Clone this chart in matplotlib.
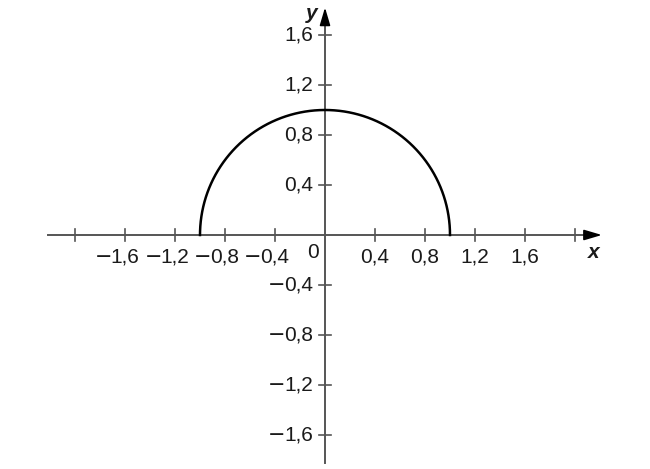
import numpy as np
import matplotlib
matplotlib.use("Agg")
import matplotlib.pyplot as plt

plt.rcParams["font.family"] = ["Liberation Sans", "DejaVu Sans"]

# data
ticks = [-2.0, -1.6, -1.2, -0.8, -0.4, 0.4, 0.8, 1.2, 1.6, 2.0]
x_label_pos = [-1.6, -1.2, -0.8, -0.4, 0.4, 0.8, 1.2, 1.6]
x_labels = ["1,6", "1,2", "0,8", "0,4", "0,4", "0,8", "1,2", "1,6"]
y_ticks = [-1.6, -1.2, -0.8, -0.4, 0.4, 0.8, 1.2, 1.6]
y_labels = ["1,6", "1,2", "0,8", "0,4", "0,4", "0,8", "1,2", "1,6"]

# upper half of the unit circle
theta = np.linspace(0, np.pi, 400)
cx = np.cos(theta)
cy = np.sin(theta)

fig = plt.figure(figsize=(6.5, 4.69), dpi=100)
ax = fig.add_axes([0, 0, 1, 1])
ax.set_xlim(-2.6, 2.6)
ax.set_ylim(-1.872, 1.88)
ax.axis("off")

axis_col = "#555555"
txt_col = "#1a1a1a"
fs = 15

# axes lines (gray) with black arrow heads
ax.plot([-2.22, 2.12], [0, 0], color=axis_col, lw=1.4)
ax.plot([0, 0], [-1.82, 1.72], color=axis_col, lw=1.4)
head = dict(arrowstyle="-|>,head_length=1.08,head_width=0.32",
            color="black", lw=1.2, shrinkA=0, shrinkB=0)
ax.annotate("", xy=(2.215, 0), xytext=(2.1, 0), arrowprops=head)
ax.annotate("", xy=(0, 1.82), xytext=(0, 1.70), arrowprops=head)

# tick marks
for t in ticks:
    ax.plot([t, t], [-0.045, 0.045], color=axis_col, lw=1.2)
for t in y_ticks:
    ax.plot([-0.045, 0.045], [t, t], color=axis_col, lw=1.2)

renderer = fig.canvas.get_renderer()
inv = ax.transData.inverted()


def minus_before(txt, y):
    # wide minus sign drawn just left of the number
    bb = txt.get_window_extent(renderer)
    left = inv.transform((bb.x0, 0))[0]
    ax.text(left + 0.01, y, "\u2212", ha="right", va="center", fontsize=fs,
            family="DejaVu Sans", color=txt_col)


for t, lab in zip(x_label_pos, x_labels):
    tx = ax.text(t, -0.176, lab, ha="center", va="center", fontsize=fs, color=txt_col)
    if t < 0:
        minus_before(tx, -0.176)
for t, lab in zip(y_ticks, y_labels):
    tx = ax.text(-0.096, t, lab, ha="right", va="center", fontsize=fs, color=txt_col)
    if t < 0:
        minus_before(tx, t)
ax.text(-0.096, -0.136, "0", ha="center", va="center", fontsize=fs, color=txt_col)

ax.text(2.15, -0.136, "x", ha="center", va="center", fontsize=fs,
        style="italic", weight="bold", color=txt_col)
ax.text(-0.11, 1.77, "y", ha="center", va="center", fontsize=fs,
        style="italic", weight="bold", color=txt_col)

# curve
ax.plot(cx, cy, color="black", lw=1.8)

fig.savefig("out.png", dpi=100)
